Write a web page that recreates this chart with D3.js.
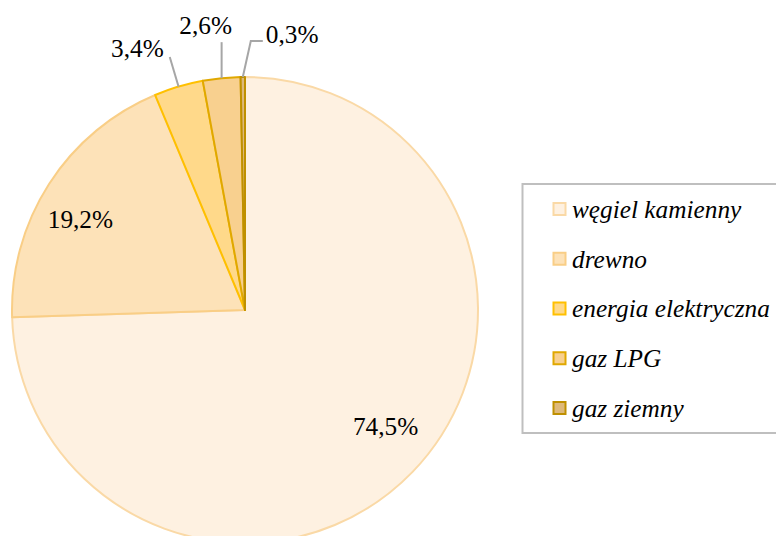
<!DOCTYPE html>
<html>
<head>
<meta charset="utf-8">
<script src="https://cdn.jsdelivr.net/npm/d3@7"></script>
<style>
  html, body { margin: 0; padding: 0; background: #ffffff; }
  svg { display: block; }
  text { font-family: "Liberation Serif", "Times New Roman", serif; fill: #000; }
</style>
</head>
<body>
<svg id="chart" width="776" height="536"></svg>
<script>
// ---- data ----
const categories = ["węgiel kamienny", "drewno", "energia elektryczna", "gaz LPG", "gaz ziemny"];
const values = [74.5, 19.2, 3.4, 2.6, 0.3];
const valueLabels = ["74,5%", "19,2%", "3,4%", "2,6%", "0,3%"];
const fillColors = ["#FEF1E1", "#FDE2B8", "#FFD98A", "#F8D08F", "#DEB97A"];
const strokeColors = ["#FAD9A6", "#F9CE86", "#FFC000", "#E0A800", "#BF9000"];

const data = categories.map((c, i) => ({ name: c, value: values[i], label: valueLabels[i], fill: fillColors[i], stroke: strokeColors[i], i }));

const svg = d3.select("#chart");
const cx = 245, cy = 310, R = 233;
const FS = 25.3;

const pie = d3.pie().value(d => d.value).sort(null).startAngle(0).endAngle(2 * Math.PI);
const arcs = pie(data);
const arc = d3.arc().innerRadius(0).outerRadius(R);

const g = svg.append("g").attr("transform", `translate(${cx},${cy})`);

g.selectAll("path.slice")
  .data(arcs)
  .join("path")
  .attr("class", "slice")
  .attr("d", arc)
  .attr("fill", d => d.data.fill)
  .attr("stroke", d => d.data.stroke)
  .attr("stroke-width", 2)
  .attr("stroke-linejoin", "round");

const polar = (r, a) => [r * Math.sin(a), -r * Math.cos(a)];
const mid = d => (d.startAngle + d.endAngle) / 2;

// inside labels for large slices
const inner = arcs.filter(d => d.data.value > 10);
g.selectAll("text.inlabel")
  .data(inner)
  .join("text")
  .attr("class", "inlabel")
  .attr("x", d => 0.84 * R * Math.sin(mid(d)))
  .attr("y", d => -0.72 * R * Math.cos(mid(d)))
  .attr("dy", "0.33em")
  .attr("text-anchor", "middle")
  .attr("font-size", FS)
  .text(d => d.data.label);

// outside labels with leader lines for small slices
const outer = arcs.filter(d => d.data.value <= 10);
outer.forEach((d, k) => {
  const a = mid(d);
  const p1 = polar(R, a);
  let pts, tx, ty, anchor;
  if (k === 0) {
    const p2 = polar(R + 31, a);
    pts = [p1, p2];
    tx = p2[0] - 6; ty = p2[1]; anchor = "end";
  } else if (k === 1) {
    const p2 = [p1[0], p1[1] - 36];
    pts = [p1, p2];
    tx = p2[0] - 16; ty = p2[1] - 8; anchor = "middle";
  } else {
    const p2 = [p1[0] + 8, p1[1] - 36];
    const p3 = [p2[0] + 12, p2[1]];
    pts = [p1, p2, p3];
    tx = p3[0] + 3; ty = p3[1] + 2; anchor = "start";
  }
  g.append("path")
    .attr("d", d3.line()(pts))
    .attr("fill", "none")
    .attr("stroke", "#A6A6A6")
    .attr("stroke-width", 2);
  g.append("text")
    .attr("x", tx).attr("y", ty)
    .attr("text-anchor", anchor)
    .attr("font-size", FS)
    .text(d.data.label);
});

// legend
const legend = svg.append("g");
legend.append("rect")
  .attr("x", 522.5).attr("y", 184)
  .attr("width", 280).attr("height", 249)
  .attr("fill", "#fff")
  .attr("stroke", "#BFBFBF")
  .attr("stroke-width", 2);

const ly = d3.scalePoint().domain(categories).range([209.5, 408.5]);
const items = legend.selectAll("g.item").data(data).join("g").attr("class", "item")
  .attr("transform", d => `translate(0,${ly(d.name)})`);
items.append("rect")
  .attr("x", 553.5).attr("y", -6.5)
  .attr("width", 12).attr("height", 12)
  .attr("fill", d => d.fill)
  .attr("stroke", d => d.stroke)
  .attr("stroke-width", 2);
items.append("text")
  .attr("x", 572).attr("y", 0)
  .attr("dy", "0.33em")
  .attr("font-size", FS)
  .attr("font-style", "italic")
  .text(d => d.name);
</script>
</body>
</html>
